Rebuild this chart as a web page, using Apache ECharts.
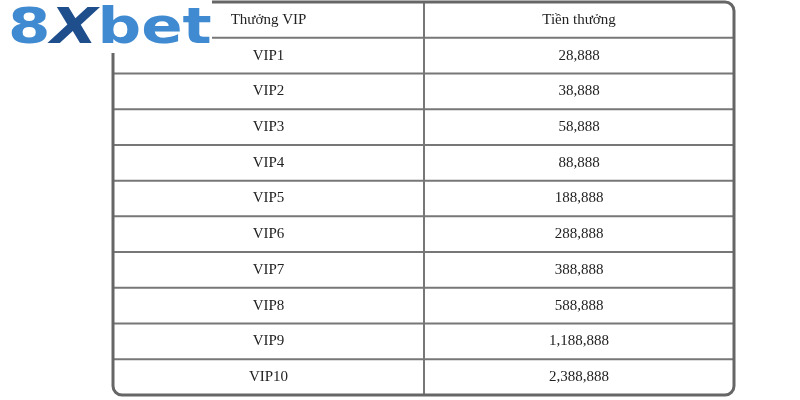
<!DOCTYPE html>
<html><head><meta charset="utf-8">
<script src="https://cdn.jsdelivr.net/npm/echarts@6/dist/echarts.min.js"></script>
<style>html,body{margin:0;background:#fff}#c{width:800px;height:400px}</style>
</head><body><div id="c"></div>
<script>
const headers = ['Thưởng VIP', 'Tiền thưởng'];
const levels = ['VIP1','VIP2','VIP3','VIP4','VIP5','VIP6','VIP7','VIP8','VIP9','VIP10'];
const rewards = ['28,888','38,888','58,888','88,888','188,888','288,888','388,888','588,888','1,188,888','2,388,888'];

const rows = [headers].concat(levels.map((l, i) => [l, rewards[i]]));
const rowNames = rows.map((r, i) => 'r' + i);
const data = [];
rows.forEach((r, i) => { data.push([0, rowNames[i], r[0], i]); data.push([1, rowNames[i], r[1], i]); });
const SPLIT = 424;

const chart = echarts.init(document.getElementById('c'));
chart.setOption({
  animation: false,
  grid: { left: 113, right: 66, top: 2, bottom: 5 },
  xAxis: { type: 'value', min: 0, max: 2, show: false },
  yAxis: { type: 'category', data: rowNames, inverse: true, show: false },
  series: [{
    type: 'custom',
    data: data,
    renderItem: function (params, api) {
      const col = api.value(0);
      const idx = api.value(3);
      const pL = api.coord([0, api.value(1)]);
      const pR = api.coord([2, api.value(1)]);
      const h = api.size([0, 1])[1];
      const xs = col === 0 ? pL[0] : SPLIT;
      const xe = col === 0 ? SPLIT : pR[0];
      const yb = pL[1] + h / 2, yt = pL[1] - h / 2;
      const ch = [
        { type: 'text', style: { x: (xs + xe) / 2, y: pL[1], text: api.value(2),
          align: 'center', verticalAlign: 'middle', fill: '#222',
          font: '15px "Liberation Serif", serif' } }
      ];
      if (idx < rows.length - 1) ch.push({ type: 'line', shape: { x1: xs, y1: yb, x2: xe, y2: yb },
        style: { stroke: '#777', lineWidth: 2 } });
      if (col === 0) ch.push({ type: 'line', shape: { x1: SPLIT, y1: yt, x2: SPLIT, y2: yb },
        style: { stroke: '#777', lineWidth: 2 } });
      return { type: 'group', children: ch };
    },
    z: 2
  }],
  graphic: [
    { type: 'rect', shape: { x: 113, y: 2, width: 621, height: 393, r: 9 },
      style: { fill: 'none', stroke: '#666', lineWidth: 3 }, z: 10 },
    { type: 'rect', shape: { x: 0, y: 0, width: 212, height: 53 }, style: { fill: '#fff' }, z: 20 },
    { type: 'text', x: 8, y: 5, scaleX: 1.22, scaleY: 1.0, z: 21,
      style: { text: '{a|8}{b|X}{a|bet}', rich: {
        a: { fill: '#3f8ad0', font: 'bold 50px "DejaVu Sans", sans-serif' },
        b: { fill: '#1f4e8c', font: 'italic bold 50px "DejaVu Sans", sans-serif' }
      } } }
  ]
});
</script></body></html>
